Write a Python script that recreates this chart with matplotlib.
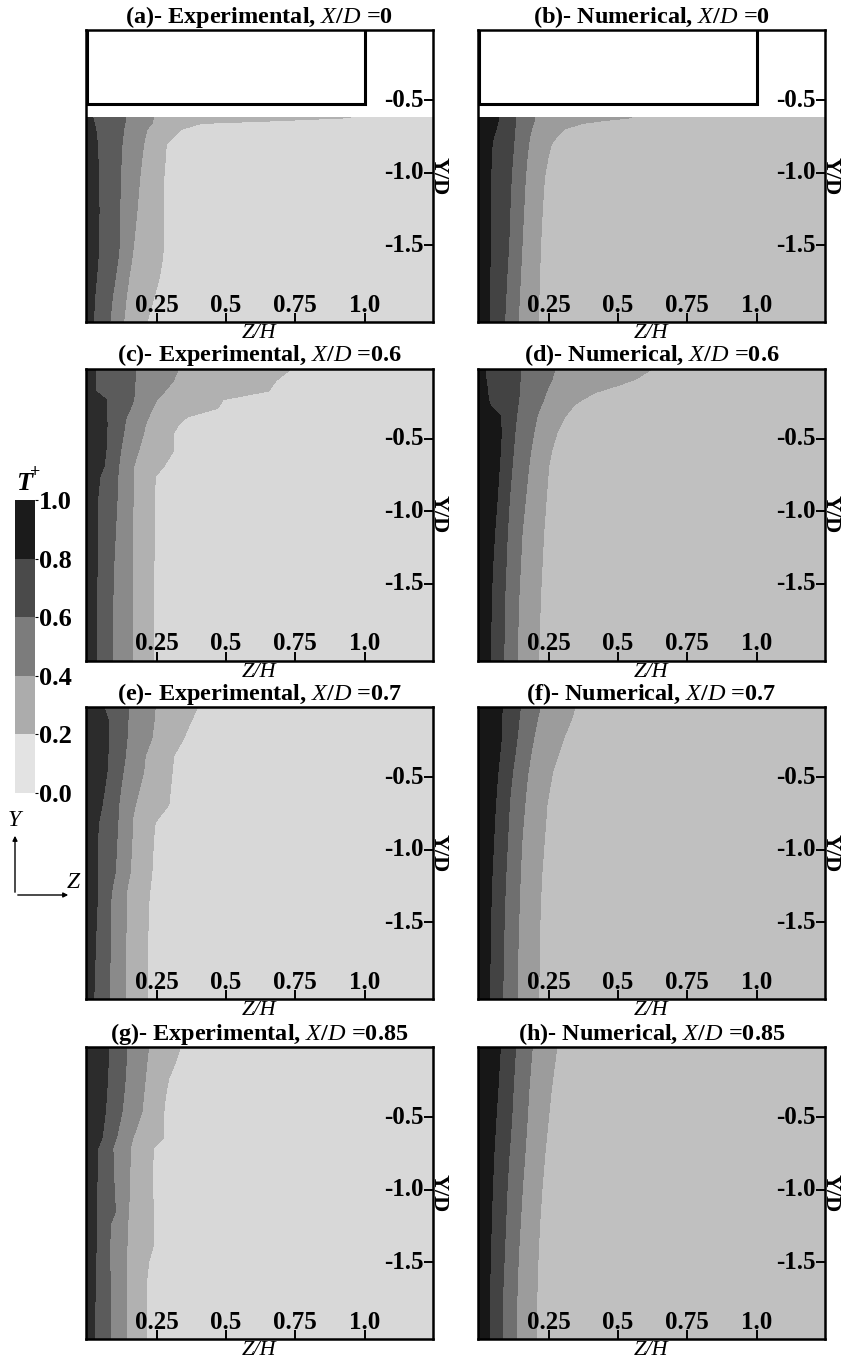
import matplotlib
matplotlib.use("Agg")
import matplotlib.pyplot as plt
import matplotlib.transforms as mtransforms
from matplotlib.patches import Rectangle, FancyArrowPatch
from matplotlib.colors import ListedColormap, BoundaryNorm
import matplotlib.cm as cm
import numpy as np

plt.rcParams['font.family'] = ['Liberation Serif', 'DejaVu Serif']
plt.rcParams['font.weight'] = 'bold'
plt.rcParams['mathtext.fontset'] = 'custom'
plt.rcParams['mathtext.it'] = 'Liberation Serif:style=italic:weight=normal'
plt.rcParams['mathtext.rm'] = 'Liberation Serif:weight=bold'
plt.rcParams['mathtext.bf'] = 'Liberation Serif:weight=bold'

# contour levels of T+ and the band colours
levels = [0.0, 0.2, 0.4, 0.6, 0.8, 1.0]
exp_colors = ['#d8d8d8', '#b1b1b1', '#8a8a8a', '#5b5b5b', '#2c2c2c']
num_colors = ['#c0c0c0', '#9c9c9c', '#6f6f6f', '#434343', '#171717']
cb_colors = ['#e3e3e3', '#acacac', '#7c7c7c', '#4a4a4a', '#1b1b1b']

# Z/H position of the 0.8, 0.6, 0.4 and 0.2 contour lines at each Y/D
a_y = [-0.62, -0.64, -0.66, -0.70, -0.80, -1.03, -1.26, -1.49, -1.60, -1.72, -1.86, -2.03]
a_z08 = [0.020, 0.022, 0.025, 0.030, 0.036, 0.041, 0.042, 0.041, 0.038, 0.033, 0.026, 0.022]
a_z06 = [0.137, 0.137, 0.135, 0.131, 0.125, 0.119, 0.117, 0.116, 0.110, 0.101, 0.090, 0.081]
a_z04 = [0.240, 0.235, 0.233, 0.215, 0.203, 0.189, 0.179, 0.167, 0.160, 0.150, 0.140, 0.131]
a_z02 = [0.950, 0.700, 0.410, 0.340, 0.285, 0.276, 0.276, 0.276, 0.270, 0.260, 0.240, 0.215]

b_y = [-0.62, -0.64, -0.66, -0.70, -0.75, -0.80, -0.90, -1.03, -1.26, -1.49, -1.72, -2.03]
b_z08 = [0.070, 0.068, 0.065, 0.060, 0.052, 0.046, 0.043, 0.041, 0.040, 0.039, 0.038, 0.036]
b_z06 = [0.132, 0.131, 0.130, 0.128, 0.126, 0.124, 0.120, 0.115, 0.110, 0.106, 0.099, 0.091]
b_z04 = [0.200, 0.198, 0.195, 0.188, 0.182, 0.178, 0.172, 0.166, 0.160, 0.154, 0.148, 0.140]
b_z02 = [0.550, 0.450, 0.370, 0.305, 0.280, 0.260, 0.247, 0.235, 0.227, 0.221, 0.217, 0.212]

c_y = [-0.01, -0.10, -0.17, -0.23, -0.29, -0.35, -0.40, -0.46, -0.58, -0.69, -0.76, -0.92, -1.15, -1.38, -1.61, -2.03]
c_z08 = [0.029, 0.029, 0.029, 0.068, 0.069, 0.070, 0.071, 0.070, 0.067, 0.060, 0.045, 0.037, 0.036, 0.035, 0.034, 0.032]
c_z06 = [0.173, 0.172, 0.170, 0.167, 0.155, 0.140, 0.135, 0.131, 0.120, 0.113, 0.110, 0.107, 0.101, 0.095, 0.092, 0.089]
c_z04 = [0.330, 0.310, 0.280, 0.251, 0.235, 0.221, 0.210, 0.203, 0.185, 0.167, 0.166, 0.165, 0.163, 0.161, 0.161, 0.161]
c_z02 = [0.740, 0.680, 0.655, 0.490, 0.470, 0.360, 0.330, 0.312, 0.312, 0.276, 0.245, 0.242, 0.242, 0.240, 0.239, 0.239]

d_y = [-0.01, -0.09, -0.13, -0.18, -0.23, -0.27, -0.345, -0.46, -0.575, -0.69, -0.92, -1.15, -1.38, -1.61, -2.03]
d_z08 = [0.019, 0.024, 0.027, 0.030, 0.033, 0.040, 0.076, 0.079, 0.076, 0.072, 0.064, 0.055, 0.048, 0.043, 0.040]
d_z06 = [0.148, 0.147, 0.146, 0.144, 0.142, 0.139, 0.134, 0.128, 0.123, 0.118, 0.108, 0.101, 0.096, 0.091, 0.088]
d_z04 = [0.274, 0.262, 0.252, 0.240, 0.232, 0.222, 0.208, 0.196, 0.186, 0.178, 0.166, 0.154, 0.148, 0.142, 0.136]
d_z02 = [0.629, 0.563, 0.503, 0.419, 0.371, 0.341, 0.310, 0.280, 0.262, 0.250, 0.241, 0.232, 0.226, 0.220, 0.214]

e_y = [-0.01, -0.12, -0.23, -0.35, -0.46, -0.58, -0.69, -0.81, -0.92, -1.15, -1.27, -1.38, -1.61, -2.03]
e_z08 = [0.059, 0.077, 0.077, 0.074, 0.071, 0.062, 0.053, 0.041, 0.037, 0.037, 0.036, 0.035, 0.030, 0.023]
e_z06 = [0.149, 0.146, 0.143, 0.137, 0.129, 0.120, 0.113, 0.110, 0.107, 0.101, 0.089, 0.083, 0.082, 0.081]
e_z04 = [0.245, 0.240, 0.233, 0.209, 0.203, 0.188, 0.173, 0.161, 0.161, 0.155, 0.143, 0.141, 0.139, 0.137]
e_z02 = [0.400, 0.372, 0.348, 0.312, 0.306, 0.300, 0.294, 0.245, 0.239, 0.233, 0.226, 0.221, 0.218, 0.218]

f_y = [-0.01, -0.12, -0.23, -0.35, -0.46, -0.58, -0.69, -0.92, -1.15, -1.38, -1.61, -2.03]
f_z08 = [0.082, 0.081, 0.079, 0.073, 0.067, 0.062, 0.058, 0.052, 0.046, 0.042, 0.040, 0.036]
f_z06 = [0.148, 0.142, 0.136, 0.128, 0.120, 0.113, 0.108, 0.102, 0.096, 0.091, 0.088, 0.084]
f_z04 = [0.220, 0.207, 0.196, 0.185, 0.176, 0.169, 0.164, 0.154, 0.148, 0.144, 0.140, 0.136]
f_z02 = [0.347, 0.328, 0.304, 0.284, 0.265, 0.253, 0.244, 0.235, 0.226, 0.220, 0.217, 0.214]

g_y = [-0.01, -0.12, -0.23, -0.35, -0.46, -0.64, -0.71, -0.92, -1.15, -1.24, -1.38, -1.50, -1.61, -2.03]
g_z08 = [0.077, 0.075, 0.073, 0.069, 0.065, 0.053, 0.038, 0.035, 0.032, 0.032, 0.032, 0.030, 0.029, 0.025]
g_z06 = [0.143, 0.140, 0.137, 0.131, 0.125, 0.105, 0.092, 0.095, 0.101, 0.083, 0.081, 0.081, 0.082, 0.083]
g_z04 = [0.221, 0.215, 0.209, 0.203, 0.197, 0.165, 0.155, 0.153, 0.149, 0.145, 0.143, 0.142, 0.141, 0.141]
g_z02 = [0.336, 0.318, 0.294, 0.282, 0.276, 0.276, 0.239, 0.233, 0.239, 0.239, 0.239, 0.221, 0.215, 0.215]

h_y = [-0.01, -0.30, -0.53, -0.76, -0.99, -1.22, -1.45, -1.68, -2.03]
h_z08 = [0.076, 0.067, 0.059, 0.052, 0.047, 0.043, 0.040, 0.037, 0.035]
h_z06 = [0.131, 0.122, 0.116, 0.107, 0.100, 0.095, 0.090, 0.085, 0.082]
h_z04 = [0.191, 0.179, 0.172, 0.164, 0.155, 0.148, 0.141, 0.136, 0.134]
h_z02 = [0.280, 0.260, 0.248, 0.236, 0.226, 0.218, 0.212, 0.208, 0.206]

titles = ['(a)- Experimental, $X/D$ =0', '(b)- Numerical, $X/D$ =0',
          '(c)- Experimental, $X/D$ =0.6', '(d)- Numerical, $X/D$ =0.6',
          '(e)- Experimental, $X/D$ =0.7', '(f)- Numerical, $X/D$ =0.7',
          '(g)- Experimental, $X/D$ =0.85', '(h)- Numerical, $X/D$ =0.85']
z_ticks = [0.25, 0.5, 0.75, 1.0]
z_ticklabels = ['0.25', '0.5', '0.75', '1.0']
y_ticks = [-0.5, -1.0, -1.5]
y_ticklabels = ['-0.5', '-1.0', '-1.5']
cb_ticks = [0.0, 0.2, 0.4, 0.6, 0.8, 1.0]

panels = [(a_y, [a_z08, a_z06, a_z04, a_z02]), (b_y, [b_z08, b_z06, b_z04, b_z02]),
          (c_y, [c_z08, c_z06, c_z04, c_z02]), (d_y, [d_z08, d_z06, d_z04, d_z02]),
          (e_y, [e_z08, e_z06, e_z04, e_z02]), (f_y, [f_z08, f_z06, f_z04, f_z02]),
          (g_y, [g_z08, g_z06, g_z04, g_z02]), (h_y, [h_z08, h_z06, h_z04, h_z02])]

W, H = 845, 1362
fig = plt.figure(figsize=(W / 100, H / 100), dpi=100)

col_left = [86, 478]
row_top = [30, 368.5, 707, 1047]
ax_w, ax_h = 347, 292
FS = 18

for k, (yv, bounds) in enumerate(panels):
    r, c = divmod(k, 2)
    ax = fig.add_axes([col_left[c] / W, 1 - (row_top[r] + ax_h) / H, ax_w / W, ax_h / H])

    # curvilinear grid: each row holds the contour-line positions at one Y/D
    n = len(yv)
    zz = np.column_stack([np.zeros(n)] + [np.array(b) for b in bounds] + [np.full(n, 1.3)])
    yy = np.repeat(np.array(yv)[:, None], zz.shape[1], axis=1)
    tt = np.tile([1.0, 0.8, 0.6, 0.4, 0.2, 0.0], (n, 1))
    cols = exp_colors if c == 0 else num_colors
    ax.contourf(zz, yy, tt, levels=levels, colors=cols)

    if r == 0:
        ax.add_patch(Rectangle((0.0, -0.525), 1.0, 0.6, fill=False, ec='black', lw=2.2, zorder=3))

    ax.set_xlim(-0.005, 1.247)
    ax.set_ylim(-2.03, -0.015)
    for s in ax.spines.values():
        s.set_linewidth(1.8)

    ax.set_xticks(z_ticks)
    ax.set_xticklabels([])
    ax.set_yticks(y_ticks)
    ax.set_yticklabels([])
    ax.tick_params(axis='x', direction='in', length=6.5, width=1.4, bottom=True, top=False)
    ax.tick_params(axis='y', direction='in', length=6.5, width=1.4, left=False, right=True)

    tx = mtransforms.offset_copy(ax.get_xaxis_transform(), fig=fig, y=7.5, units='points')
    for zt, zl in zip(z_ticks, z_ticklabels):
        ax.text(zt, 0, zl, transform=tx, ha='center', va='baseline', fontsize=FS, fontweight='bold')
    ty = mtransforms.offset_copy(ax.get_yaxis_transform(), fig=fig, x=-7.0, units='points')
    for yt, yl in zip(y_ticks, y_ticklabels):
        ax.text(1, yt, yl, transform=ty, ha='right', va='center', fontsize=FS, fontweight='bold')

    ax.set_title(titles[k], fontsize=17.5, fontweight='bold', pad=4.0)
    tz = mtransforms.offset_copy(ax.transAxes, fig=fig, y=-1.5, units='points')
    ax.text(0.5, 0, 'Z/H', transform=tz, ha='center', va='top', fontsize=16,
            fontstyle='italic', fontweight='normal')
    td = mtransforms.offset_copy(ax.transAxes, fig=fig, x=-3.0, units='points')
    ax.text(1, 0.5, 'Y/D', transform=td, rotation=270, ha='left', va='center',
            fontsize=16, fontweight='bold')

# colour bar
cax = fig.add_axes([15 / W, 1 - 793 / H, 20 / W, 293 / H])
cmap = ListedColormap(cb_colors)
norm = BoundaryNorm(levels, cmap.N)
cb = fig.colorbar(cm.ScalarMappable(norm=norm, cmap=cmap), cax=cax, ticks=cb_ticks)
cb.outline.set_visible(False)
cb.ax.tick_params(length=2.5, width=0.8, pad=0.5, labelsize=19)
cb.ax.set_yticklabels(['%.1f' % v for v in cb_ticks])
fig.text(16 / W, 1 - 483 / H, 'T', fontsize=19, fontstyle='italic', fontweight='bold',
         ha='left', va='center')
fig.text(30 / W, 1 - 473 / H, '+', fontsize=13, fontweight='bold', ha='left', va='center')

# coordinate triad
ox, oy = 15, H - 895
fig.add_artist(FancyArrowPatch((ox, oy), (ox, oy + 62), transform=None,
               arrowstyle='-|>', mutation_scale=7, lw=1.0, color='black'))
fig.add_artist(FancyArrowPatch((ox, oy), (ox + 56, oy), transform=None,
               arrowstyle='-|>', mutation_scale=7, lw=1.0, color='black'))
fig.text(14 / W, 1 - 820 / H, 'Y', fontsize=17, fontstyle='italic', fontweight='normal',
         ha='center', va='center')
fig.text(73 / W, 1 - 882 / H, 'Z', fontsize=17, fontstyle='italic', fontweight='normal',
         ha='center', va='center')

fig.savefig('out.png', dpi=100)
